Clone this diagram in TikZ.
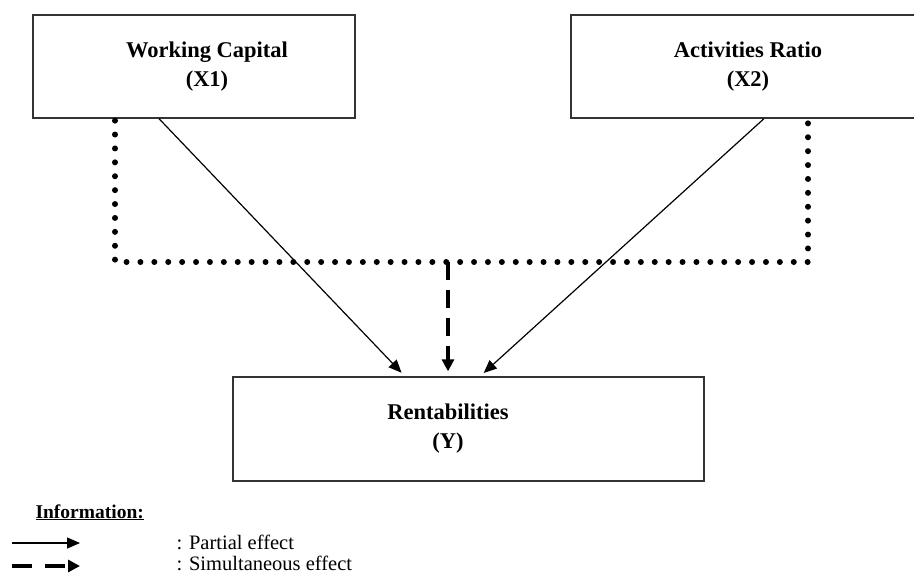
\documentclass[tikz,border=0pt]{standalone}
\usepackage{fontspec}
\setmainfont{Liberation Serif}
\usetikzlibrary{arrows.meta}

\begin{document}
\begin{tikzpicture}[x=1pt, y=-1pt,
                    box/.style={draw=black!80, line width=1.3pt, rectangle, inner sep=0},
                    boxtext/.style={font=\fontsize{22.5}{29}\selectfont\bfseries, align=center},
                    partial/.style={line width=1.2pt, -{Triangle[length=13pt, width=11pt]}, shorten >=5pt},
                    simult/.style={line width=4pt, dash pattern=on 18pt off 10pt, -{Triangle[length=12pt, width=12pt]}},
                    dots/.style={line width=6pt, line cap=round, dash pattern=on 0pt off 13.9pt},
                    legtext/.style={anchor=west, font=\fontsize{20.5}{22}\selectfont}]
    \useasboundingbox (0,0) rectangle (914,574);

    \node (wc) [box, minimum width=322pt, minimum height=103pt,
                label={[boxtext, xshift=13pt]center:Working Capital\\(X1)}] at (194,66.5) {};
    \node (ar) [box, minimum width=347pt, minimum height=103pt,
                label={[boxtext, xshift=3.5pt]center:Activities Ratio\\(X2)}] at (744.5,66.5) {};
    \node (ry) [box, minimum width=471pt, minimum height=104pt,
                label={[boxtext, xshift=-20.5pt]center:Rentabilities\\(Y)}] at (468.5,429) {};

    \coordinate (join) at (448,262);
    \draw [dots] ([xshift=-79pt, yshift=-2pt]wc.south) -- ([xshift=-79pt]wc.south |- join)
                 -- ([xshift=63.5pt]ar.south |- join) -- ([xshift=63.5pt, yshift=-2pt]ar.south);
    \draw [simult] (join) -- ([xshift=-20.5pt, yshift=5pt]ry.north);

    \draw [partial] ([xshift=-35pt]wc.south) -- ([xshift=-63.5pt]ry.north);
    \draw [partial] ([xshift=19.5pt]ar.south) -- ([xshift=11.5pt]ry.north);

    % legend
    \node (info) [anchor=base west, font=\fontsize{19.5}{22}\selectfont\bfseries] at (32,518) {\underline{Information:}};
    \coordinate (pa) at (12,543);
    \coordinate (pb) at (80,543);
    \coordinate (sa) at (12,566);
    \coordinate (sb) at (80,566);
    \draw [partial, shorten >=0pt] (pa) -- (pb);
    \draw [simult, dash pattern=on 20pt off 13pt] (sa) -- (sb);
    \node (pt) [legtext] at (173,542) {: Partial effect};
    \node (st) [legtext] at (173,563) {: Simultaneous effect};
\end{tikzpicture}
\end{document}
